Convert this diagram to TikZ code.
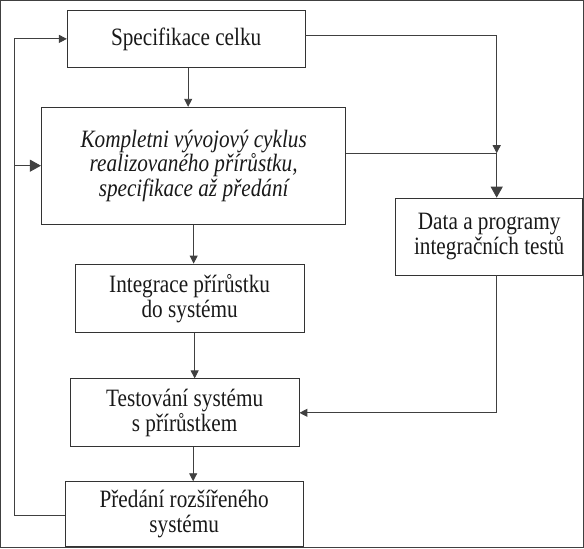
\documentclass[tikz,border=0pt]{standalone}
\usepackage{fontspec}
\setmainfont[FakeStretch=0.85]{Liberation Serif}
\usetikzlibrary{arrows.meta}
\begin{document}
\begin{tikzpicture}[x=1pt,y=-1pt,
  line width=0.9pt,
  every path/.style={draw=black!75},
  box/.style={draw=black!80, line width=0.9pt, inner sep=0pt, align=center,
    font=\fontsize{25}{24.5}\selectfont, text=black!90},
  arr/.style={-{Triangle[length=8pt,width=8pt]}},
  arrbig/.style={-{Triangle[length=11pt,width=12pt]}}]
\useasboundingbox (0,0) rectangle (584,548);

% process boxes
\node[box, minimum width=238pt, minimum height=57pt] (b1) at (186,38.5) {Specifikace celku};
\node[box, minimum width=305pt, minimum height=117pt] (b2) at (193.5,165.5)
  {\itshape Kompletni vývojový cyklus\\ \itshape realizovaného přírůstku,\\ \itshape specifikace až předání};
\node[box, minimum width=229pt, minimum height=69pt] (b3) at (189.5,298.5) {Integrace přírůstku\\ do systému};
\node[box, minimum width=229pt, minimum height=68pt] (b4) at (184.5,413) {Testování systému\\ s přírůstkem};
\node[box, minimum width=238pt, minimum height=65pt] (b5) at (184,514.5) {Předání rozšířeného\\ systému};
\node[box, minimum width=187pt, minimum height=77pt] (b6) at (489.5,236.5) {Data a programy\\ integračních testů};

% junction points
\coordinate (J) at (497,153);
\coordinate (L1) at (14,516);
\coordinate (L2) at (14,38.5);
\coordinate (L3) at (14,165.5);

% main flow
\draw[arr] ([xshift=2pt]b1.south) -- ([xshift=2pt]b1.south |- b2.north);
\draw[arr] (b2.south) -- (b2.south |- b3.north);
\draw[arr] ([xshift=5pt]b3.south) -- ([xshift=5pt]b3.south |- b4.north);
\draw[arr] ([xshift=8.5pt]b4.south) -- ([xshift=8.5pt]b4.south |- b5.north);

% feedback loop on the left
\draw (b5.west |- L1) -- (L1) -- (L2);
\draw[arr] (L2) -- (b1.west);
\draw[arrbig] (L3) -- (b2.west);

% test data branch on the right
\draw[arr] ([yshift=3.5pt]b1.east) -| (J);
\draw ([yshift=12.5pt]b2.east) -- (J);
\draw[arrbig] (J) -- (J |- b6.north);
\draw[arr] (J |- b6.south) |- (b4.east);
\end{tikzpicture}
\end{document}
